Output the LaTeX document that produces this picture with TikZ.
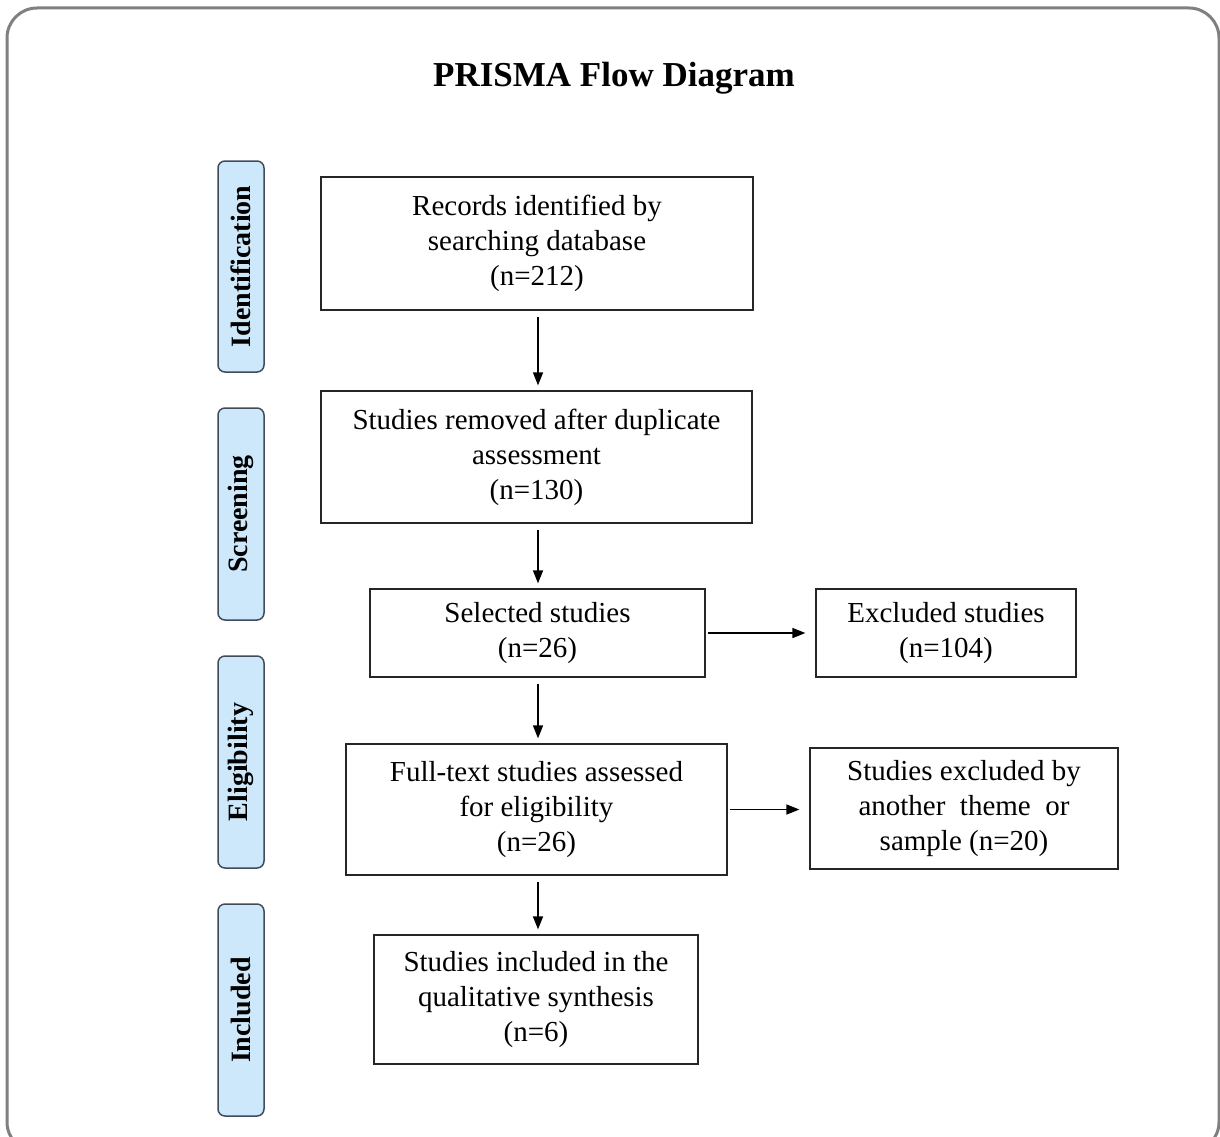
\documentclass[tikz,border=0pt]{standalone}
\usepackage{fontspec}
\setmainfont{Liberation Serif}
\usetikzlibrary{arrows.meta}
\definecolor{phasefill}{RGB}{205,232,250}
\definecolor{phaseline}{RGB}{65,75,90}
\definecolor{framegray}{RGB}{128,128,128}
\begin{document}
\begin{tikzpicture}[x=1pt,y=-1pt,
 box/.style={draw=black!85,line width=1.2pt,align=center,inner sep=0pt,font=\fontsize{29}{35}\selectfont},
 phase/.style={draw=phaseline,fill=phasefill,rounded corners=7pt,line width=1.5pt,rotate=90,inner sep=0pt,font=\fontsize{28}{30}\selectfont\bfseries},
 arr/.style={line width=1.4pt,-{Triangle[length=13pt,width=10pt]},shorten <=6pt,shorten >=5pt},
 harr/.style={arr,shorten <=2pt,shorten >=10pt}]
\useasboundingbox (0,0) rectangle (1220,1137);
\draw[framegray,line width=3pt,rounded corners=30pt] (7,8) rectangle (1219,1152);
\node[font=\fontsize{35}{40}\selectfont\bfseries] (title) at (614,78) {PRISMA Flow Diagram};
% phases
\node[phase,minimum width=211pt,minimum height=46pt] (pid) at (241,266.5) {Identification};
\node[phase,minimum width=212pt,minimum height=46pt] (psc) at (241,514) {Screening};
\node[phase,minimum width=212pt,minimum height=46pt] (pel) at (241,762) {Eligibility};
\node[phase,minimum width=212pt,minimum height=46pt] (pin) at (241,1010) {Included};
% boxes
\node[box,minimum width=432pt,minimum height=133pt] (rec) at (537,243.5) {Records identified by\\searching database\\(n=212)};
\node[box,minimum width=431pt,minimum height=132pt] (dup) at (536.5,457) {Studies removed after duplicate\\assessment\\(n=130)};
\node[box,minimum width=335pt,minimum height=88pt] (sel) at (537.5,633) {Selected studies\\(n=26)};
\node[box,minimum width=260pt,minimum height=88pt] (exc) at (946,633) {Excluded studies\\(n=104)};
\node[box,minimum width=381pt,minimum height=131pt] (full) at (536.5,809.5) {Full-text studies assessed\\for eligibility\\(n=26)};
\node[box,minimum width=308pt,minimum height=121pt] (exc2) at (964,808.5) {Studies excluded by\\another \ theme \ or\\sample (n=20)};
\node[box,minimum width=324pt,minimum height=129pt] (inc) at (536,999.5) {Studies included in the\\qualitative synthesis\\(n=6)};
% arrows
\coordinate (ax) at (538,0);
\draw[arr] (rec.south -| ax) -- (dup.north -| ax);
\draw[arr] (dup.south -| ax) -- (sel.north -| ax);
\draw[arr] (sel.south -| ax) -- (full.north -| ax);
\draw[arr] (full.south -| ax) -- (inc.north -| ax);
\draw[harr] (sel.east) -- (exc.west);
\draw[harr] (full.east) -- (full.east -| exc2.west);
\end{tikzpicture}
\end{document}
